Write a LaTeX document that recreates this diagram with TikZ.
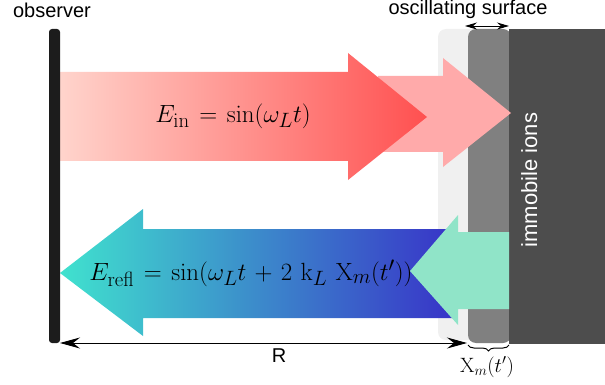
\documentclass[tikz,border=0pt]{standalone}
\usepackage[no-math]{fontspec}
\newfontfamily\labelfont{Liberation Sans}
\usetikzlibrary{arrows.meta,decorations.pathreplacing}
\newcommand\widespacing{\thickmuskip=7mu\relax\medmuskip=6mu\relax}
\definecolor{redL}{RGB}{255,212,204}
\definecolor{redR}{RGB}{255,80,80}
\definecolor{pinkA}{RGB}{255,170,170}
\definecolor{blueL}{RGB}{64,226,206}
\definecolor{blueR}{RGB}{56,52,200}
\definecolor{mintA}{RGB}{144,228,200}
\definecolor{lgray}{RGB}{240,240,240}
\definecolor{mgray}{RGB}{128,128,128}
\definecolor{dgray}{RGB}{77,77,77}
\definecolor{barc}{RGB}{28,28,28}
\tikzset{
  sanslabel/.style={font=\labelfont\fontsize{20}{24}\selectfont, inner sep=0pt},
  mathlabel/.style={font=\fontsize{28}{32}\selectfont, inner sep=0pt},
  dimarrow/.style={line width=0.9pt, {Stealth[length=20pt,width=11pt,inset=7pt]}-{Stealth[length=20pt,width=11pt,inset=7pt]}},
  smallarrow/.style={line width=0.9pt, {Stealth[length=12pt,width=7pt,inset=4pt]}-{Stealth[length=12pt,width=7pt,inset=4pt]}},
}
\begin{document}
\begin{tikzpicture}[x=1pt,y=-1pt]
\useasboundingbox (0,0) rectangle (605,385);
% surface layers
\fill[lgray, rounded corners=8pt] (438,29) rectangle (490,340);
\fill[mgray, rounded corners=8pt] (468,29) rectangle (511,343);
\fill[dgray] (509,29) rectangle (605,344);
% reflected-in-surface pink arrow
\fill[pinkA] (378,76) -- (443,76) -- (443,58) -- (511,113) -- (443,167) -- (443,152) -- (378,152) -- cycle;
% incoming arrow
\shade[left color=redL, right color=redR] (60,72) -- (348,72) -- (348,53) -- (427,117) -- (348,180) -- (348,161) -- (60,161) -- cycle;
% reflected arrow
\shade[left color=blueL, right color=blueR] (452,229) -- (143,229) -- (143,209) -- (60,273) -- (143,336) -- (143,318) -- (452,318) -- cycle;
% mint arrow
\fill[mintA] (509,232) -- (458,232) -- (458,215) -- (410,271) -- (458,325) -- (458,309) -- (509,309) -- cycle;
% observer bar
\fill[barc, rounded corners=3pt] (49,29) rectangle (60,343);
% labels
\node[sanslabel, anchor=base] (obs) at (52,18) {observer};
\node[sanslabel, anchor=base] (osc) at (468,15) {oscillating surface};
\node[sanslabel, font=\labelfont\fontsize{22}{26}\selectfont, anchor=base, text=white, rotate=90] (ions) at (537,180) {immobile ions};
\node[sanslabel, anchor=base] (R) at (279,362) {R};
\node[mathlabel] (Ein) at (233,116) {$\widespacing E_{\mathrm{in}} = \sin(\omega_L t)$};
\node[mathlabel] (Erefl) at (251,273) {$\widespacing E_{\mathrm{refl}} = \sin(\omega_L t + 2\ \mathrm{k}_L\ \mathrm{X}_m(t'))$};
\node[font=\fontsize{22}{26}\selectfont, inner sep=0pt] (Xm) at (487,367) {$\mathrm{X}_m(t')$};
% dimension arrows
\coordinate (Rl) at (60,343);
\coordinate (Rr) at (467,343);
\draw[dimarrow] (Rl) -- (Rr);
\coordinate (Ol) at (465,26);
\coordinate (Or) at (509,26);
\draw[smallarrow] (Ol) -- (Or);
\coordinate (Bl) at (468,345);
\coordinate (Br) at (509,345);
\draw[line width=1pt, decorate, decoration={brace, mirror, amplitude=6pt}] (Bl) -- (Br);
\end{tikzpicture}
\end{document}
